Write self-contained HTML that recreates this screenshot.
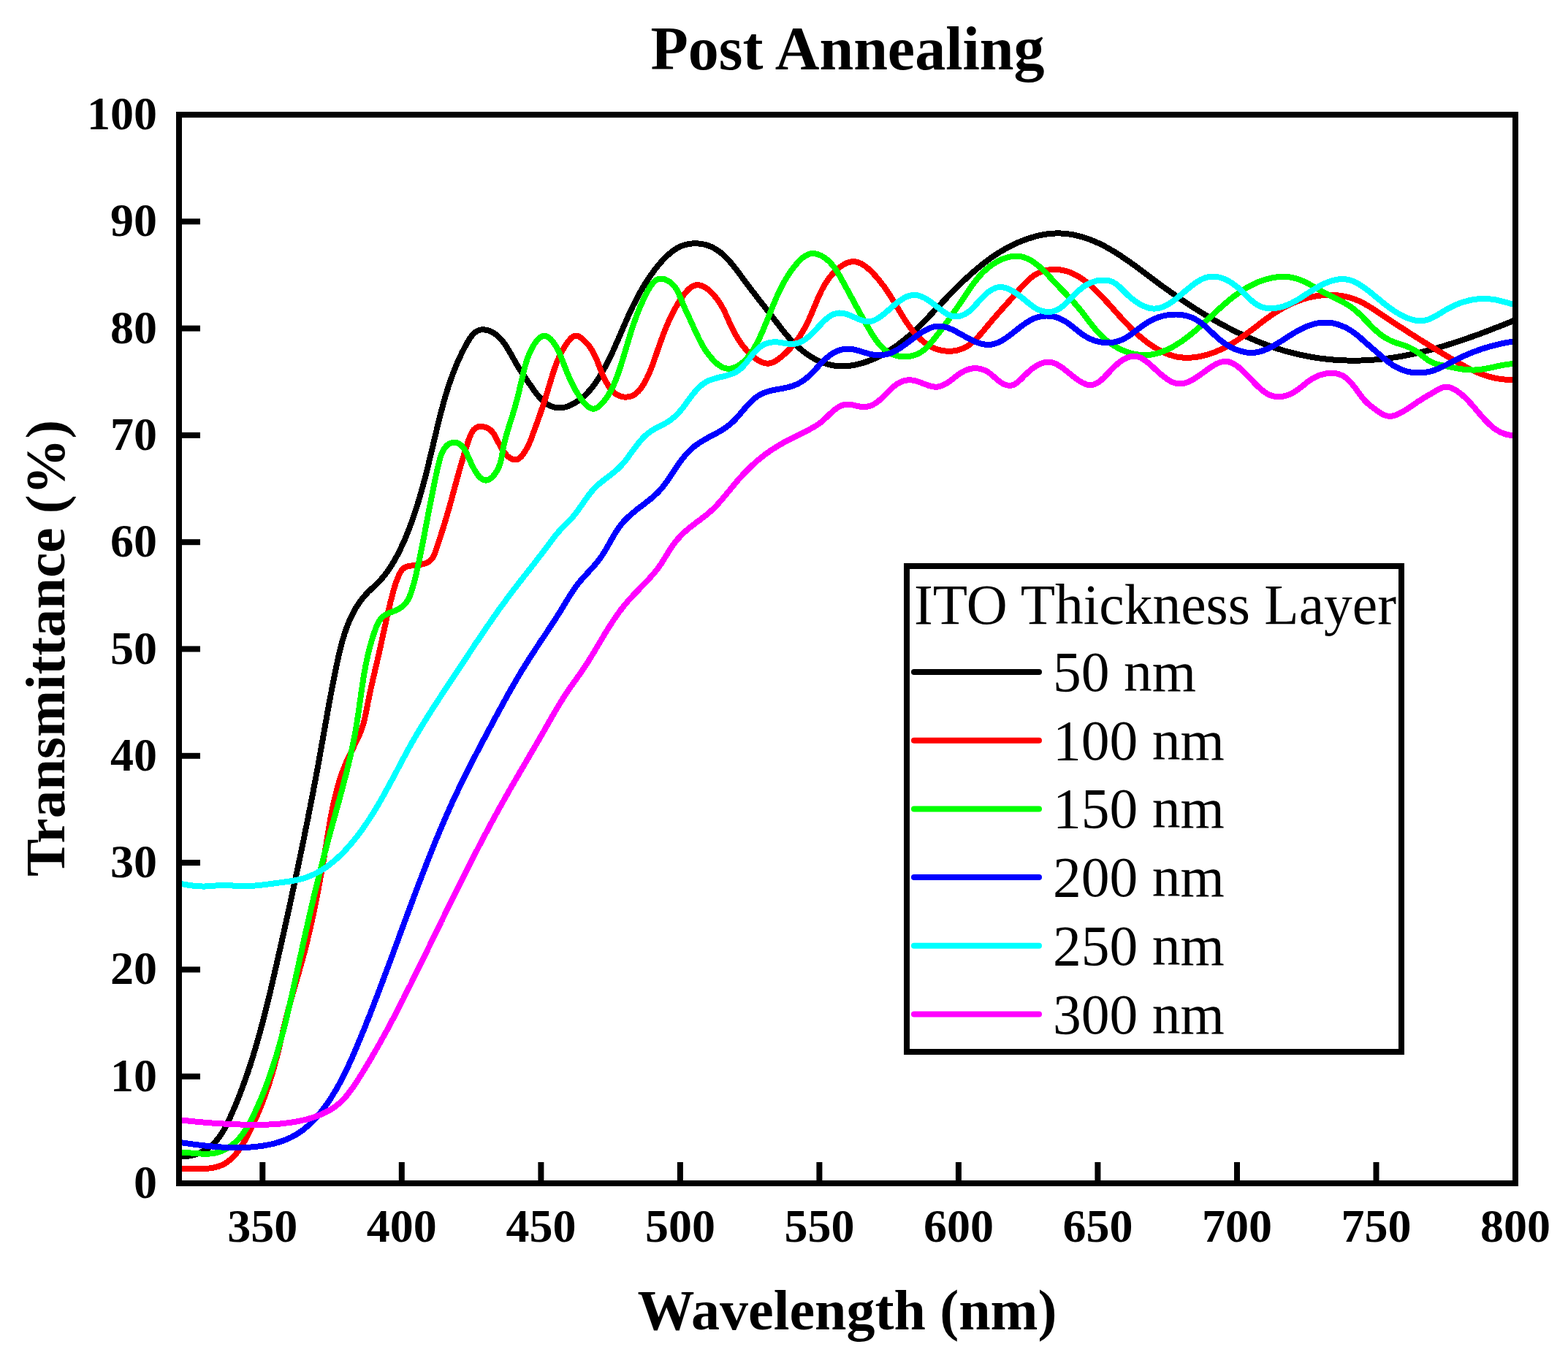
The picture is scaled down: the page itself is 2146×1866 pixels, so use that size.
<!DOCTYPE html>
<html><head><meta charset="utf-8"><title>Post Annealing</title>
<style>
html,body{margin:0;padding:0;background:#fff;}
svg{display:block;}
text{font-family:"Liberation Serif","Times New Roman",serif;fill:#000;}
.tk{font-weight:bold;font-size:64px;}
.ttl{font-weight:bold;font-size:84px;}
.ax{font-weight:bold;font-size:78px;}
.lg{font-weight:normal;font-size:77.5px;}
</style></head><body>
<svg width="2146" height="1866" viewBox="0 0 2146 1866">
<defs><clipPath id="clip"><rect x="245" y="157" width="1829" height="1463"/></clipPath></defs>
<rect x="0" y="0" width="2146" height="1866" fill="#fff"/>
<g clip-path="url(#clip)" fill="none" stroke-width="8" stroke-linejoin="round" stroke-linecap="butt" shape-rendering="crispEdges"><path d="M245.0,1582.4 248.8,1582.9 252.6,1583.0 256.5,1582.8 260.4,1582.3 264.3,1581.4 268.2,1580.3 272.0,1578.9 275.8,1577.2 279.4,1575.3 282.9,1573.2 286.2,1570.8 289.4,1568.3 292.3,1565.7 295.1,1562.8 297.6,1559.9 300.0,1556.8 302.3,1553.6 304.4,1550.2 306.4,1546.8 308.4,1543.4 310.2,1539.8 311.9,1536.3 313.6,1532.6 315.3,1529.0 316.9,1525.4 318.5,1521.7 320.1,1518.0 321.7,1514.4 323.2,1510.7 324.7,1507.0 326.2,1503.3 327.7,1499.6 329.1,1495.8 330.5,1492.1 331.9,1488.4 333.3,1484.6 334.6,1480.9 336.0,1477.1 337.3,1473.4 338.6,1469.6 339.9,1465.8 341.1,1462.0 342.4,1458.3 343.6,1454.5 344.8,1450.7 346.0,1446.8 347.2,1443.0 348.3,1439.2 349.5,1435.4 350.6,1431.6 351.7,1427.7 352.8,1423.9 353.9,1420.0 355.0,1416.2 356.0,1412.3 357.1,1408.5 358.1,1404.6 359.1,1400.8 360.1,1396.9 361.1,1393.0 362.1,1389.2 363.1,1385.3 364.1,1381.4 365.1,1377.5 366.0,1373.6 367.0,1369.7 367.9,1365.8 368.8,1362.0 369.8,1358.1 370.7,1354.2 371.6,1350.3 372.5,1346.4 373.4,1342.5 374.3,1338.6 375.2,1334.7 376.1,1330.8 377.0,1326.8 377.9,1322.9 378.8,1319.0 379.7,1315.1 380.6,1311.2 381.4,1307.3 382.3,1303.4 383.2,1299.5 384.1,1295.6 385.0,1291.7 385.8,1287.8 386.7,1283.9 387.6,1280.0 388.5,1276.1 389.3,1272.2 390.2,1268.3 391.1,1264.4 391.9,1260.5 392.8,1256.6 393.6,1252.7 394.5,1248.8 395.4,1244.9 396.2,1240.9 397.1,1237.0 397.9,1233.1 398.8,1229.2 399.6,1225.3 400.4,1221.4 401.3,1217.5 402.1,1213.6 403.0,1209.7 403.8,1205.8 404.6,1201.9 405.5,1198.0 406.3,1194.1 407.1,1190.2 407.9,1186.3 408.8,1182.4 409.6,1178.4 410.4,1174.5 411.2,1170.6 412.0,1166.7 412.8,1162.8 413.6,1158.9 414.5,1155.0 415.3,1151.1 416.1,1147.2 416.8,1143.3 417.6,1139.3 418.4,1135.4 419.2,1131.5 420.0,1127.6 420.8,1123.7 421.6,1119.8 422.3,1115.9 423.1,1111.9 423.9,1108.0 424.7,1104.1 425.4,1100.2 426.2,1096.3 426.9,1092.4 427.7,1088.4 428.5,1084.5 429.2,1080.6 429.9,1076.7 430.7,1072.8 431.4,1068.8 432.2,1064.9 432.9,1061.0 433.6,1057.1 434.4,1053.2 435.1,1049.2 435.8,1045.3 436.5,1041.4 437.2,1037.5 437.9,1033.5 438.6,1029.6 439.3,1025.7 440.0,1021.7 440.7,1017.8 441.4,1013.9 442.1,1009.9 442.8,1006.0 443.5,1002.1 444.2,998.2 444.9,994.2 445.6,990.3 446.3,986.4 447.0,982.4 447.7,978.5 448.4,974.5 449.1,970.6 449.8,966.7 450.5,962.7 451.3,958.8 452.0,954.9 452.7,950.9 453.5,947.0 454.2,943.1 455.0,939.1 455.7,935.2 456.5,931.2 457.3,927.3 458.1,923.4 458.9,919.4 459.7,915.5 460.5,911.6 461.4,907.6 462.2,903.7 463.1,899.8 464.0,895.8 464.9,891.9 465.9,888.0 466.8,884.1 467.9,880.2 468.9,876.3 470.1,872.5 471.2,868.7 472.5,864.9 473.8,861.1 475.1,857.4 476.6,853.7 478.1,850.1 479.7,846.4 481.4,842.9 483.2,839.3 485.1,835.8 487.0,832.4 489.1,829.0 491.3,825.7 493.6,822.5 496.0,819.3 498.5,816.3 501.2,813.3 503.9,810.4 506.8,807.7 509.7,805.0 512.6,802.3 515.5,799.6 518.3,796.8 521.0,793.9 523.6,790.9 526.1,787.8 528.6,784.7 530.9,781.5 533.1,778.2 535.3,774.8 537.4,771.4 539.4,768.0 541.4,764.5 543.3,761.0 545.2,757.4 547.0,753.9 548.7,750.2 550.4,746.6 552.1,742.9 553.7,739.3 555.2,735.6 556.8,731.9 558.3,728.2 559.7,724.5 561.1,720.7 562.5,717.0 563.9,713.2 565.2,709.5 566.5,705.7 567.8,701.9 569.0,698.1 570.3,694.3 571.5,690.5 572.6,686.7 573.8,682.9 574.9,679.1 576.0,675.2 577.1,671.4 578.2,667.5 579.2,663.7 580.2,659.8 581.3,656.0 582.3,652.1 583.3,648.2 584.2,644.4 585.2,640.5 586.2,636.6 587.1,632.7 588.0,628.8 589.0,624.9 589.9,621.1 590.8,617.2 591.8,613.3 592.7,609.4 593.6,605.5 594.5,601.6 595.5,597.7 596.4,593.8 597.3,589.9 598.2,586.1 599.2,582.2 600.1,578.3 601.1,574.4 602.1,570.5 603.0,566.7 604.0,562.8 605.1,558.9 606.1,555.1 607.1,551.2 608.2,547.4 609.3,543.6 610.5,539.7 611.6,535.9 612.8,532.1 614.0,528.3 615.3,524.5 616.6,520.7 617.9,517.0 619.3,513.2 620.7,509.4 622.2,505.7 623.7,502.0 625.2,498.3 626.8,494.6 628.5,490.9 630.2,487.2 631.9,483.6 633.8,479.9 635.6,476.3 637.6,472.7 639.6,469.1 641.7,465.5 643.9,462.1 646.2,459.0 648.8,456.2 651.6,454.0 654.7,452.4 658.0,451.5 661.6,451.3 665.3,451.7 669.0,452.7 672.5,454.1 675.8,455.9 679.0,458.1 681.9,460.7 684.7,463.5 687.4,466.6 690.0,470.0 692.4,473.4 694.7,477.1 697.0,480.8 699.1,484.5 701.3,488.3 703.3,492.1 705.4,495.7 707.4,499.3 709.4,502.7 711.4,505.9 713.5,509.1 715.5,512.2 717.6,515.3 719.7,518.4 721.9,521.5 724.1,524.7 726.4,528.0 728.7,531.3 731.1,534.8 733.6,538.2 736.2,541.5 739.0,544.6 741.8,547.6 744.8,550.3 748.0,552.7 751.3,554.7 754.8,556.3 758.4,557.5 762.1,558.2 765.9,558.5 769.7,558.2 773.5,557.4 777.3,556.2 781.1,554.7 784.8,552.8 788.3,550.8 791.7,548.5 794.9,546.1 798.0,543.6 801.0,540.9 803.8,538.0 806.5,535.1 809.1,532.1 811.6,528.9 814.0,525.7 816.3,522.4 818.5,519.0 820.7,515.6 822.7,512.1 824.8,508.6 826.7,505.1 828.6,501.6 830.5,498.0 832.3,494.5 834.0,490.9 835.8,487.3 837.5,483.7 839.2,480.1 840.8,476.4 842.4,472.8 844.0,469.2 845.6,465.5 847.2,461.9 848.8,458.2 850.4,454.6 851.9,450.9 853.5,447.3 855.1,443.6 856.7,440.0 858.3,436.4 859.9,432.7 861.5,429.1 863.2,425.5 864.9,421.9 866.6,418.3 868.4,414.8 870.2,411.2 872.0,407.7 873.9,404.2 875.8,400.7 877.7,397.2 879.7,393.8 881.8,390.4 883.9,387.0 886.1,383.6 888.3,380.3 890.5,377.0 892.9,373.7 895.3,370.4 897.8,367.2 900.3,364.1 902.9,360.9 905.6,357.8 908.4,354.8 911.3,351.9 914.2,349.1 917.3,346.4 920.4,343.9 923.7,341.7 927.0,339.6 930.5,337.8 934.1,336.3 937.9,335.1 941.7,334.2 945.6,333.6 949.6,333.3 953.6,333.3 957.6,333.6 961.5,334.2 965.4,335.0 969.1,336.2 972.8,337.6 976.3,339.3 979.6,341.2 982.9,343.3 986.0,345.6 989.0,348.2 992.0,350.8 994.8,353.7 997.6,356.6 1000.2,359.7 1002.9,362.9 1005.4,366.1 1008.0,369.4 1010.5,372.7 1012.9,376.0 1015.4,379.4 1017.8,382.7 1020.2,386.0 1022.7,389.2 1025.1,392.5 1027.5,395.6 1029.9,398.8 1032.4,401.9 1034.8,405.1 1037.2,408.2 1039.6,411.3 1042.0,414.3 1044.4,417.4 1046.9,420.5 1049.3,423.6 1051.7,426.7 1054.1,429.8 1056.5,432.9 1058.9,436.1 1061.2,439.2 1063.7,442.4 1066.1,445.5 1068.5,448.7 1071.0,451.8 1073.5,455.0 1076.1,458.1 1078.7,461.1 1081.3,464.1 1084.1,467.1 1086.9,470.0 1089.7,472.8 1092.7,475.5 1095.8,478.2 1098.9,480.8 1102.2,483.2 1105.5,485.6 1108.9,487.8 1112.4,489.9 1116.0,491.9 1119.6,493.7 1123.3,495.3 1127.0,496.8 1130.8,498.0 1134.6,499.1 1138.5,499.9 1142.3,500.6 1146.2,501.0 1150.2,501.2 1154.1,501.3 1158.0,501.1 1161.9,500.8 1165.9,500.3 1169.8,499.6 1173.7,498.8 1177.6,497.8 1181.4,496.7 1185.2,495.5 1189.0,494.1 1192.8,492.7 1196.5,491.1 1200.2,489.4 1203.8,487.7 1207.3,485.8 1210.8,483.9 1214.2,481.8 1217.6,479.8 1220.9,477.6 1224.2,475.4 1227.4,473.1 1230.6,470.7 1233.7,468.3 1236.8,465.9 1239.9,463.3 1242.9,460.8 1245.9,458.2 1248.8,455.5 1251.7,452.8 1254.6,450.1 1257.5,447.3 1260.4,444.5 1263.2,441.7 1266.0,438.8 1268.8,436.0 1271.6,433.1 1274.4,430.2 1277.2,427.2 1279.9,424.3 1282.7,421.4 1285.5,418.5 1288.2,415.5 1291.0,412.6 1293.8,409.7 1296.6,406.7 1299.4,403.8 1302.2,400.9 1305.0,398.1 1307.9,395.2 1310.7,392.4 1313.6,389.5 1316.5,386.7 1319.4,383.9 1322.3,381.2 1325.2,378.5 1328.2,375.8 1331.2,373.1 1334.2,370.5 1337.2,367.9 1340.3,365.4 1343.4,362.9 1346.5,360.4 1349.6,358.0 1352.8,355.6 1356.0,353.3 1359.3,351.1 1362.5,348.9 1365.8,346.7 1369.2,344.6 1372.6,342.6 1376.0,340.6 1379.5,338.7 1383.0,336.9 1386.5,335.1 1390.1,333.5 1393.7,331.8 1397.4,330.3 1401.1,328.8 1404.9,327.5 1408.7,326.2 1412.6,325.0 1416.5,323.8 1420.4,322.8 1424.4,321.9 1428.4,321.2 1432.4,320.5 1436.4,320.0 1440.4,319.7 1444.4,319.5 1448.4,319.4 1452.4,319.5 1456.4,319.8 1460.4,320.1 1464.3,320.7 1468.2,321.3 1472.1,322.1 1476.0,323.0 1479.8,324.1 1483.6,325.2 1487.4,326.5 1491.1,327.8 1494.8,329.2 1498.5,330.7 1502.1,332.3 1505.7,334.0 1509.2,335.8 1512.8,337.6 1516.2,339.5 1519.7,341.5 1523.1,343.5 1526.5,345.5 1529.9,347.7 1533.3,349.8 1536.6,352.1 1539.9,354.3 1543.2,356.6 1546.5,358.9 1549.8,361.3 1553.0,363.6 1556.3,366.0 1559.5,368.4 1562.8,370.9 1566.0,373.3 1569.2,375.7 1572.4,378.1 1575.6,380.5 1578.9,383.0 1582.1,385.4 1585.3,387.7 1588.5,390.1 1591.8,392.5 1595.0,394.8 1598.3,397.1 1601.5,399.4 1604.8,401.7 1608.0,404.0 1611.3,406.3 1614.6,408.5 1617.8,410.8 1621.1,413.0 1624.4,415.2 1627.8,417.4 1631.1,419.6 1634.4,421.7 1637.8,423.8 1641.1,425.9 1644.5,428.0 1647.9,430.1 1651.3,432.1 1654.7,434.2 1658.1,436.2 1661.6,438.2 1665.1,440.1 1668.5,442.1 1672.0,444.0 1675.6,445.9 1679.1,447.8 1682.7,449.6 1686.2,451.4 1689.8,453.2 1693.4,455.0 1697.0,456.7 1700.7,458.4 1704.3,460.1 1708.0,461.7 1711.6,463.4 1715.3,464.9 1719.0,466.5 1722.7,468.0 1726.5,469.5 1730.2,470.9 1734.0,472.3 1737.7,473.7 1741.5,475.0 1745.3,476.3 1749.1,477.5 1752.9,478.7 1756.8,479.9 1760.6,481.0 1764.5,482.0 1768.3,483.0 1772.2,484.0 1776.1,484.9 1780.0,485.8 1783.9,486.7 1787.8,487.4 1791.7,488.2 1795.6,488.9 1799.5,489.5 1803.5,490.1 1807.4,490.7 1811.3,491.2 1815.3,491.6 1819.3,492.0 1823.2,492.4 1827.2,492.7 1831.1,493.0 1835.1,493.2 1839.1,493.4 1843.1,493.5 1847.0,493.6 1851.0,493.7 1855.0,493.7 1858.9,493.6 1862.9,493.5 1866.9,493.4 1870.9,493.2 1874.8,493.0 1878.8,492.7 1882.7,492.4 1886.7,492.0 1890.6,491.6 1894.6,491.2 1898.5,490.7 1902.5,490.2 1906.4,489.6 1910.4,489.0 1914.3,488.4 1918.2,487.7 1922.1,487.0 1926.0,486.2 1929.9,485.4 1933.8,484.6 1937.7,483.7 1941.6,482.9 1945.5,481.9 1949.4,481.0 1953.3,480.0 1957.2,479.0 1961.0,478.0 1964.9,476.9 1968.8,475.8 1972.6,474.7 1976.5,473.6 1980.3,472.4 1984.1,471.2 1988.0,470.0 1991.8,468.8 1995.6,467.5 1999.4,466.3 2003.2,465.0 2007.0,463.7 2010.8,462.3 2014.6,461.0 2018.3,459.6 2022.1,458.3 2025.9,456.9 2029.6,455.5 2033.3,454.1 2037.1,452.7 2040.8,451.2 2044.5,449.8 2048.2,448.3 2051.9,446.9 2055.6,445.4 2059.3,443.9 2063.0,442.5 2066.7,441.0 2070.3,439.5 2074.0,438.0" stroke="#000000"/><path d="M245.0,1599.4 248.6,1599.5 252.3,1599.6 256.2,1599.8 260.2,1599.9 264.3,1600.1 268.5,1600.2 272.7,1600.2 276.9,1600.1 281.0,1599.9 285.2,1599.6 289.3,1599.1 293.3,1598.4 297.1,1597.4 300.9,1596.2 304.4,1594.7 307.8,1593.0 311.0,1590.9 314.0,1588.6 316.9,1586.1 319.7,1583.4 322.3,1580.5 324.8,1577.4 327.2,1574.2 329.4,1570.9 331.6,1567.4 333.7,1563.9 335.8,1560.3 337.7,1556.6 339.6,1553.0 341.5,1549.3 343.3,1545.6 345.1,1541.9 346.8,1538.2 348.5,1534.6 350.2,1530.9 351.8,1527.2 353.4,1523.5 354.9,1519.8 356.5,1516.1 357.9,1512.4 359.4,1508.7 360.8,1505.0 362.2,1501.3 363.5,1497.6 364.8,1493.9 366.1,1490.1 367.4,1486.4 368.6,1482.7 369.8,1478.9 370.9,1475.1 372.1,1471.4 373.2,1467.6 374.3,1463.8 375.4,1460.0 376.4,1456.1 377.4,1452.3 378.4,1448.5 379.4,1444.6 380.4,1440.7 381.3,1436.9 382.3,1433.0 383.2,1429.1 384.1,1425.2 385.1,1421.3 386.0,1417.4 386.9,1413.5 387.8,1409.6 388.7,1405.6 389.7,1401.7 390.6,1397.8 391.6,1393.9 392.6,1390.0 393.6,1386.1 394.6,1382.3 395.6,1378.4 396.7,1374.5 397.7,1370.7 398.8,1366.8 399.9,1363.0 401.0,1359.1 402.1,1355.3 403.2,1351.4 404.3,1347.6 405.4,1343.7 406.5,1339.9 407.7,1336.1 408.8,1332.2 409.8,1328.4 410.9,1324.5 412.0,1320.7 413.1,1316.9 414.1,1313.0 415.1,1309.2 416.2,1305.3 417.2,1301.4 418.2,1297.6 419.1,1293.7 420.1,1289.8 421.0,1286.0 422.0,1282.1 422.9,1278.2 423.8,1274.3 424.7,1270.4 425.6,1266.6 426.4,1262.7 427.3,1258.8 428.1,1254.9 429.0,1251.0 429.8,1247.1 430.6,1243.2 431.4,1239.3 432.2,1235.3 433.0,1231.4 433.7,1227.5 434.5,1223.6 435.3,1219.7 436.0,1215.8 436.7,1211.8 437.5,1207.9 438.2,1204.0 438.9,1200.0 439.6,1196.1 440.3,1192.2 441.0,1188.2 441.7,1184.3 442.4,1180.3 443.0,1176.4 443.7,1172.4 444.4,1168.5 445.0,1164.5 445.7,1160.6 446.4,1156.6 447.0,1152.7 447.6,1148.7 448.3,1144.8 448.9,1140.8 449.6,1136.8 450.3,1132.9 450.9,1128.9 451.6,1125.0 452.3,1121.0 453.0,1117.1 453.8,1113.2 454.5,1109.3 455.3,1105.3 456.1,1101.4 457.0,1097.5 457.9,1093.6 458.8,1089.8 459.8,1085.9 460.8,1082.0 461.8,1078.2 462.9,1074.4 464.0,1070.6 465.2,1066.8 466.5,1063.0 467.8,1059.2 469.1,1055.5 470.5,1051.8 472.0,1048.1 473.6,1044.4 475.2,1040.7 476.9,1037.1 478.6,1033.5 480.4,1029.8 482.2,1026.2 484.0,1022.6 485.8,1019.0 487.5,1015.4 489.2,1011.8 490.9,1008.1 492.5,1004.5 494.0,1000.8 495.3,997.0 496.6,993.3 497.7,989.5 498.7,985.6 499.6,981.7 500.5,977.8 501.3,973.9 502.0,970.0 502.8,966.1 503.5,962.1 504.3,958.2 505.1,954.3 505.9,950.4 506.8,946.5 507.6,942.5 508.5,938.6 509.4,934.7 510.3,930.8 511.2,926.9 512.1,923.0 513.0,919.1 513.9,915.2 514.9,911.3 515.8,907.4 516.6,903.5 517.5,899.6 518.4,895.7 519.3,891.8 520.1,887.9 521.0,884.0 521.8,880.1 522.7,876.2 523.5,872.3 524.3,868.4 525.2,864.5 526.1,860.6 526.9,856.7 527.8,852.8 528.6,848.9 529.5,845.1 530.4,841.2 531.3,837.3 532.2,833.4 533.2,829.5 534.1,825.6 535.1,821.7 536.1,817.8 537.1,814.0 538.1,810.1 539.2,806.2 540.4,802.4 541.6,798.5 543.0,794.7 544.5,790.9 546.1,787.2 548.0,783.5 550.1,780.2 552.8,777.7 556.0,776.0 559.7,775.0 563.6,774.4 567.8,774.0 571.9,773.6 576.0,772.9 579.9,772.0 583.5,770.7 586.8,768.9 589.7,766.6 592.0,763.8 593.9,760.3 595.5,756.6 596.9,752.6 598.2,748.7 599.5,744.7 600.8,740.8 602.1,736.9 603.3,733.0 604.5,729.1 605.8,725.2 607.0,721.4 608.1,717.5 609.3,713.7 610.4,709.9 611.6,706.1 612.7,702.2 613.8,698.4 614.9,694.6 615.9,690.8 617.0,687.0 618.0,683.2 619.1,679.4 620.1,675.6 621.1,671.8 622.2,668.0 623.2,664.2 624.2,660.4 625.3,656.6 626.3,652.8 627.4,649.0 628.4,645.1 629.5,641.3 630.6,637.4 631.7,633.6 632.9,629.7 634.0,625.8 635.2,621.9 636.4,618.0 637.6,614.0 638.9,610.1 640.2,606.1 641.5,602.1 642.9,598.2 644.5,594.5 646.3,591.1 648.4,588.2 650.9,586.0 653.9,584.4 657.5,583.8 661.5,584.1 665.7,585.3 669.4,587.3 672.6,589.9 675.1,593.0 677.3,596.5 679.2,600.1 681.1,603.9 683.1,607.7 685.0,611.3 687.1,614.9 689.4,618.3 691.9,621.5 694.7,624.4 697.8,626.9 701.2,628.7 704.6,629.5 707.9,629.0 710.9,627.3 713.8,624.7 716.4,621.4 718.7,617.8 720.8,614.2 722.7,610.6 724.4,607.0 725.9,603.4 727.3,599.9 728.6,596.3 729.9,592.7 731.3,589.1 732.6,585.5 733.9,581.8 735.2,578.1 736.6,574.4 737.9,570.6 739.2,566.9 740.5,563.1 741.8,559.3 743.1,555.5 744.3,551.7 745.6,547.9 746.8,544.0 748.0,540.2 749.2,536.3 750.3,532.5 751.5,528.7 752.6,524.8 753.8,521.0 754.9,517.1 756.1,513.3 757.3,509.5 758.6,505.7 759.9,502.0 761.3,498.2 762.8,494.5 764.4,490.8 766.0,487.2 767.8,483.6 769.7,480.0 771.8,476.4 773.9,472.9 776.2,469.5 778.7,466.1 781.4,463.0 784.3,460.7 787.4,459.6 790.8,460.1 794.2,461.8 797.6,464.5 800.8,467.5 803.7,470.6 806.3,473.8 808.6,477.0 810.7,480.3 812.5,483.7 814.2,487.2 815.8,490.7 817.4,494.3 818.8,498.0 820.3,501.7 821.8,505.6 823.4,509.5 825.0,513.5 826.8,517.4 828.7,521.3 830.8,525.1 832.9,528.6 835.3,532.0 837.9,535.0 840.6,537.6 843.6,539.9 846.8,541.6 850.2,542.8 853.8,543.5 857.4,543.6 861.0,543.2 864.5,542.2 867.9,540.5 871.0,538.2 874.0,535.4 876.7,532.1 879.2,528.6 881.5,524.9 883.6,521.2 885.5,517.5 887.3,513.7 888.9,510.0 890.5,506.3 891.9,502.6 893.3,498.9 894.6,495.2 895.9,491.5 897.2,487.8 898.5,484.1 899.7,480.4 901.0,476.8 902.3,473.1 903.6,469.4 904.9,465.8 906.2,462.1 907.6,458.5 909.0,454.8 910.4,451.2 911.9,447.5 913.5,443.9 915.1,440.2 916.8,436.6 918.5,432.9 920.3,429.3 922.2,425.6 924.2,422.0 926.3,418.3 928.5,414.6 930.8,410.9 933.2,407.3 935.8,403.7 938.4,400.4 941.1,397.4 944.0,394.7 946.9,392.6 949.9,391.1 953.1,390.2 956.3,390.2 959.6,390.9 963.0,392.3 966.3,394.3 969.6,396.8 972.8,399.7 975.9,402.9 978.9,406.3 981.6,409.8 984.1,413.4 986.4,416.9 988.4,420.4 990.3,423.9 992.0,427.4 993.7,430.9 995.2,434.4 996.8,437.9 998.4,441.4 1000.0,444.9 1001.7,448.4 1003.4,451.9 1005.2,455.4 1007.2,458.9 1009.2,462.4 1011.3,465.8 1013.5,469.1 1015.9,472.4 1018.4,475.6 1021.0,478.7 1023.8,481.8 1026.7,484.7 1029.9,487.5 1033.2,490.1 1036.6,492.6 1040.2,494.7 1043.9,496.4 1047.6,497.4 1051.3,497.7 1054.9,497.1 1058.5,495.8 1062.0,493.9 1065.4,491.6 1068.7,489.1 1071.8,486.4 1074.9,483.6 1077.8,480.8 1080.6,477.9 1083.4,474.9 1086.0,471.8 1088.5,468.7 1090.9,465.5 1093.2,462.3 1095.4,459.0 1097.5,455.6 1099.6,452.2 1101.5,448.7 1103.4,445.2 1105.2,441.6 1106.9,437.9 1108.5,434.3 1110.2,430.6 1111.7,426.8 1113.3,423.1 1114.8,419.4 1116.4,415.6 1117.9,411.9 1119.5,408.2 1121.2,404.5 1122.9,400.9 1124.6,397.3 1126.5,393.8 1128.4,390.3 1130.5,386.9 1132.7,383.6 1135.0,380.4 1137.5,377.3 1140.1,374.3 1142.9,371.4 1145.9,368.6 1149.1,366.0 1152.5,363.6 1156.0,361.5 1159.6,359.9 1163.2,358.7 1166.8,358.2 1170.5,358.3 1174.0,359.1 1177.6,360.5 1181.0,362.3 1184.4,364.6 1187.7,367.2 1190.9,370.1 1194.0,373.2 1197.0,376.4 1199.8,379.6 1202.5,382.8 1205.1,386.0 1207.5,389.2 1209.9,392.3 1212.1,395.5 1214.3,398.7 1216.4,401.9 1218.5,405.1 1220.5,408.3 1222.5,411.5 1224.5,414.8 1226.5,418.2 1228.5,421.6 1230.6,425.0 1232.7,428.5 1234.8,432.0 1237.0,435.5 1239.3,439.0 1241.6,442.5 1244.0,445.9 1246.4,449.3 1248.9,452.5 1251.5,455.7 1254.2,458.8 1257.0,461.7 1259.9,464.5 1262.9,467.1 1266.0,469.6 1269.2,471.8 1272.6,473.8 1276.1,475.6 1279.7,477.2 1283.4,478.4 1287.3,479.5 1291.2,480.2 1295.1,480.6 1299.1,480.8 1303.0,480.6 1307.0,480.2 1310.8,479.4 1314.5,478.3 1318.2,476.9 1321.6,475.2 1325.0,473.2 1328.2,470.9 1331.3,468.3 1334.3,465.6 1337.2,462.7 1340.0,459.7 1342.8,456.6 1345.5,453.4 1348.2,450.2 1350.8,447.0 1353.5,443.8 1356.1,440.7 1358.7,437.6 1361.3,434.6 1363.9,431.6 1366.5,428.6 1369.1,425.7 1371.7,422.8 1374.3,419.9 1376.9,417.0 1379.5,414.1 1382.1,411.2 1384.7,408.3 1387.3,405.3 1390.0,402.3 1392.6,399.3 1395.3,396.2 1398.0,393.1 1400.8,390.1 1403.6,387.1 1406.5,384.2 1409.5,381.5 1412.7,379.0 1415.9,376.7 1419.3,374.6 1422.9,372.9 1426.6,371.5 1430.4,370.4 1434.4,369.6 1438.4,369.1 1442.4,368.9 1446.4,368.9 1450.4,369.3 1454.3,369.9 1458.1,370.8 1461.8,371.9 1465.4,373.3 1469.0,374.8 1472.5,376.6 1475.9,378.5 1479.3,380.6 1482.6,382.9 1485.8,385.3 1489.0,387.8 1492.1,390.4 1495.2,393.1 1498.2,395.9 1501.1,398.8 1504.0,401.7 1506.9,404.7 1509.7,407.7 1512.4,410.7 1515.2,413.6 1517.9,416.6 1520.6,419.6 1523.2,422.6 1525.9,425.6 1528.5,428.5 1531.1,431.5 1533.8,434.4 1536.4,437.3 1539.1,440.2 1541.8,443.0 1544.5,445.8 1547.2,448.6 1550.0,451.4 1552.9,454.1 1555.8,456.8 1558.7,459.4 1561.7,462.0 1564.8,464.5 1567.9,467.0 1571.1,469.5 1574.4,471.8 1577.8,474.1 1581.3,476.3 1584.8,478.4 1588.3,480.4 1591.9,482.2 1595.6,483.8 1599.3,485.3 1603.1,486.5 1606.9,487.6 1610.7,488.5 1614.5,489.1 1618.4,489.5 1622.3,489.8 1626.2,489.8 1630.1,489.6 1634.1,489.3 1638.0,488.8 1641.9,488.1 1645.8,487.3 1649.7,486.3 1653.6,485.1 1657.4,483.9 1661.3,482.5 1665.1,481.0 1668.8,479.4 1672.6,477.6 1676.2,475.8 1679.9,473.9 1683.4,471.9 1687.0,469.9 1690.4,467.7 1693.8,465.5 1697.1,463.3 1700.4,461.0 1703.7,458.7 1706.9,456.3 1710.1,454.0 1713.2,451.6 1716.4,449.2 1719.5,446.8 1722.7,444.4 1725.8,442.0 1729.0,439.6 1732.1,437.2 1735.3,434.9 1738.5,432.6 1741.8,430.4 1745.1,428.2 1748.4,426.1 1751.8,424.1 1755.2,422.1 1758.7,420.2 1762.2,418.4 1765.8,416.6 1769.4,415.0 1773.1,413.4 1776.8,411.9 1780.6,410.6 1784.4,409.3 1788.2,408.2 1792.1,407.2 1796.1,406.3 1800.0,405.6 1804.0,404.9 1808.1,404.5 1812.1,404.1 1816.2,403.9 1820.2,403.8 1824.3,403.9 1828.3,404.2 1832.4,404.6 1836.3,405.1 1840.3,405.8 1844.2,406.7 1848.0,407.7 1851.8,408.9 1855.5,410.3 1859.2,411.8 1862.7,413.5 1866.3,415.3 1869.7,417.2 1873.2,419.2 1876.6,421.3 1880.0,423.4 1883.3,425.6 1886.6,427.9 1890.0,430.1 1893.3,432.3 1896.6,434.6 1900.0,436.8 1903.3,439.0 1906.6,441.2 1910.0,443.4 1913.3,445.6 1916.7,447.8 1920.0,449.9 1923.4,452.1 1926.7,454.3 1930.1,456.4 1933.4,458.6 1936.8,460.7 1940.2,462.8 1943.5,465.0 1946.9,467.1 1950.3,469.2 1953.7,471.3 1957.1,473.4 1960.5,475.5 1963.9,477.6 1967.3,479.7 1970.7,481.8 1974.1,483.8 1977.5,485.9 1981.0,487.9 1984.4,490.0 1987.9,492.0 1991.3,494.1 1994.8,496.1 1998.3,498.1 2001.7,500.0 2005.3,501.9 2008.8,503.7 2012.3,505.5 2015.9,507.2 2019.5,508.9 2023.2,510.4 2026.8,511.9 2030.5,513.3 2034.2,514.5 2038.0,515.7 2041.8,516.7 2045.7,517.6 2049.6,518.3 2053.5,518.9 2057.5,519.4 2061.5,519.7 2065.6,519.8 2069.8,519.7 2074.0,519.5" stroke="#ff0000"/><path d="M245.0,1578.4 249.0,1578.2 253.0,1578.2 257.1,1578.3 261.1,1578.5 265.0,1578.8 269.0,1579.1 273.0,1579.4 276.9,1579.6 280.9,1579.7 284.8,1579.7 288.7,1579.4 292.6,1578.9 296.4,1578.1 300.3,1576.9 304.1,1575.5 307.8,1573.7 311.4,1571.7 314.9,1569.5 318.1,1567.1 321.2,1564.6 324.1,1561.8 326.8,1559.0 329.4,1556.0 331.8,1552.9 334.1,1549.7 336.3,1546.4 338.4,1543.0 340.4,1539.6 342.3,1536.1 344.1,1532.5 345.9,1528.9 347.7,1525.3 349.4,1521.7 351.1,1518.1 352.7,1514.4 354.3,1510.7 355.9,1507.1 357.5,1503.4 359.0,1499.7 360.5,1496.0 362.0,1492.3 363.4,1488.6 364.8,1484.8 366.2,1481.1 367.6,1477.4 368.9,1473.6 370.2,1469.8 371.5,1466.1 372.8,1462.3 374.0,1458.5 375.2,1454.7 376.4,1450.9 377.6,1447.1 378.8,1443.2 379.9,1439.4 381.0,1435.6 382.1,1431.7 383.2,1427.9 384.3,1424.0 385.3,1420.2 386.4,1416.3 387.4,1412.5 388.4,1408.6 389.4,1404.7 390.4,1400.8 391.3,1396.9 392.3,1393.1 393.2,1389.2 394.2,1385.3 395.1,1381.4 396.0,1377.5 396.9,1373.6 397.8,1369.7 398.7,1365.7 399.6,1361.8 400.5,1357.9 401.3,1354.0 402.2,1350.1 403.1,1346.2 403.9,1342.3 404.8,1338.4 405.6,1334.4 406.5,1330.5 407.3,1326.6 408.2,1322.7 409.0,1318.8 409.9,1314.9 410.7,1311.0 411.6,1307.1 412.5,1303.2 413.3,1299.2 414.2,1295.3 415.0,1291.4 415.9,1287.5 416.8,1283.6 417.6,1279.7 418.5,1275.8 419.4,1271.9 420.3,1268.0 421.1,1264.2 422.0,1260.3 422.9,1256.4 423.8,1252.5 424.7,1248.6 425.6,1244.7 426.5,1240.8 427.4,1236.9 428.3,1233.0 429.2,1229.2 430.2,1225.3 431.1,1221.4 432.0,1217.5 433.0,1213.6 433.9,1209.8 434.8,1205.9 435.8,1202.0 436.8,1198.1 437.7,1194.3 438.7,1190.4 439.7,1186.5 440.6,1182.6 441.6,1178.8 442.6,1174.9 443.6,1171.0 444.6,1167.2 445.7,1163.3 446.7,1159.5 447.7,1155.6 448.7,1151.7 449.8,1147.9 450.8,1144.0 451.9,1140.2 452.9,1136.3 454.0,1132.4 455.1,1128.6 456.1,1124.7 457.2,1120.9 458.3,1117.0 459.3,1113.1 460.4,1109.3 461.5,1105.4 462.5,1101.6 463.6,1097.7 464.6,1093.8 465.7,1090.0 466.7,1086.1 467.8,1082.2 468.8,1078.4 469.8,1074.5 470.8,1070.6 471.8,1066.7 472.8,1062.9 473.8,1059.0 474.8,1055.1 475.7,1051.2 476.7,1047.3 477.6,1043.4 478.5,1039.5 479.4,1035.7 480.3,1031.7 481.1,1027.8 482.0,1023.9 482.8,1020.0 483.6,1016.1 484.4,1012.2 485.1,1008.3 485.9,1004.3 486.6,1000.4 487.3,996.5 487.9,992.5 488.6,988.6 489.2,984.6 489.8,980.7 490.4,976.7 491.0,972.7 491.5,968.8 492.1,964.8 492.6,960.9 493.2,956.9 493.8,952.9 494.3,949.0 494.9,945.0 495.5,941.0 496.1,937.1 496.7,933.1 497.3,929.2 497.9,925.2 498.6,921.3 499.3,917.4 500.0,913.4 500.8,909.5 501.6,905.6 502.4,901.7 503.3,897.8 504.2,893.9 505.1,890.0 506.1,886.1 507.2,882.2 508.3,878.3 509.4,874.5 510.6,870.7 511.9,866.8 513.3,863.0 514.7,859.2 516.2,855.5 518.0,852.0 520.0,848.7 522.4,845.7 525.2,843.2 528.5,841.1 532.1,839.4 536.0,837.9 539.9,836.4 543.6,834.8 547.1,832.9 550.3,830.7 553.1,828.2 555.7,825.4 557.8,822.2 559.6,818.8 561.2,815.1 562.6,811.3 563.8,807.4 565.0,803.5 566.1,799.6 567.2,795.6 568.2,791.6 569.2,787.6 570.1,783.6 571.0,779.6 571.9,775.7 572.7,771.7 573.6,767.8 574.4,763.9 575.2,760.0 576.0,756.1 576.8,752.2 577.5,748.3 578.3,744.5 579.1,740.6 579.8,736.8 580.6,732.9 581.3,729.1 582.0,725.2 582.8,721.4 583.5,717.6 584.2,713.7 585.0,709.9 585.7,706.1 586.4,702.2 587.2,698.3 587.9,694.5 588.7,690.6 589.4,686.7 590.2,682.8 591.0,678.8 591.8,674.9 592.6,670.9 593.4,666.9 594.2,662.9 595.1,658.9 595.9,654.8 596.8,650.7 597.7,646.6 598.6,642.5 599.6,638.3 600.5,634.1 601.6,630.0 602.7,625.9 604.1,622.1 605.6,618.5 607.3,615.2 609.4,612.3 611.7,609.8 614.5,607.8 617.5,606.5 620.9,605.8 624.2,605.9 627.4,607.0 630.4,609.0 633.1,611.7 635.5,615.0 637.6,618.6 639.5,622.4 641.3,626.4 643.2,630.5 645.1,634.8 647.3,639.2 649.5,643.4 651.9,647.3 654.4,650.8 657.0,653.7 659.8,656.0 662.6,657.3 665.4,657.6 668.4,656.8 671.3,655.1 674.1,652.7 676.7,649.7 679.1,646.2 681.2,642.5 683.0,638.6 684.4,634.6 685.5,630.7 686.4,626.7 687.1,622.7 687.8,618.8 688.5,614.8 689.2,610.9 690.1,607.0 691.0,603.1 692.0,599.3 693.1,595.4 694.2,591.6 695.3,587.8 696.5,584.0 697.7,580.2 698.9,576.4 700.1,572.6 701.4,568.8 702.5,564.9 703.7,561.1 704.8,557.3 705.9,553.4 706.9,549.5 707.9,545.7 708.9,541.8 709.8,537.9 710.8,534.0 711.7,530.1 712.6,526.2 713.5,522.3 714.4,518.5 715.4,514.6 716.3,510.7 717.2,506.9 718.2,503.1 719.2,499.3 720.4,495.4 721.6,491.5 723.1,487.5 724.7,483.5 726.6,479.4 728.8,475.2 731.2,471.2 733.7,467.6 736.4,464.4 739.2,461.9 742.1,460.3 745.1,459.7 748.0,460.3 751.0,461.9 753.8,464.4 756.4,467.5 758.9,470.9 761.1,474.5 763.1,478.3 765.0,482.1 766.7,486.1 768.3,490.0 769.8,493.8 771.3,497.6 772.7,501.3 774.2,505.0 775.6,508.6 777.1,512.2 778.6,515.8 780.1,519.3 781.8,522.8 783.5,526.4 785.4,529.9 787.3,533.5 789.5,537.1 791.8,540.8 794.2,544.5 796.9,548.2 799.7,551.7 802.6,554.9 805.6,557.4 808.7,559.1 811.8,559.8 814.9,559.3 817.9,557.8 820.8,555.5 823.6,552.7 826.3,549.6 828.8,546.4 831.1,543.0 833.3,539.6 835.3,536.1 837.2,532.5 839.0,528.8 840.7,525.1 842.3,521.3 843.8,517.5 845.2,513.7 846.6,509.8 847.9,505.9 849.2,502.1 850.4,498.2 851.6,494.3 852.8,490.5 853.9,486.7 855.0,482.9 856.2,479.1 857.3,475.3 858.4,471.5 859.6,467.7 860.7,463.9 861.9,460.2 863.0,456.4 864.2,452.7 865.4,448.9 866.7,445.2 867.9,441.5 869.3,437.7 870.6,434.0 872.0,430.3 873.5,426.5 875.0,422.8 876.6,419.1 878.2,415.3 879.9,411.6 881.7,407.9 883.5,404.1 885.5,400.4 887.5,396.6 889.6,393.0 891.9,389.6 894.4,386.6 897.0,384.2 900.0,382.5 903.2,381.6 906.7,381.6 910.4,382.6 914.1,384.4 917.7,386.7 920.9,389.6 923.6,392.8 926.0,396.3 928.0,400.0 929.7,403.8 931.3,407.7 932.9,411.6 934.4,415.4 936.0,419.1 937.6,422.7 939.3,426.3 940.9,429.9 942.6,433.4 944.2,436.9 945.9,440.5 947.5,444.1 949.1,447.7 950.7,451.3 952.4,454.9 954.1,458.5 955.8,462.1 957.6,465.7 959.5,469.3 961.4,472.8 963.5,476.3 965.7,479.7 968.0,483.0 970.5,486.3 973.1,489.5 975.9,492.7 978.9,495.7 982.0,498.4 985.3,500.8 988.7,502.8 992.2,504.1 995.8,504.8 999.5,504.7 1003.2,503.9 1006.9,502.4 1010.5,500.5 1014.0,498.1 1017.3,495.5 1020.4,492.5 1023.3,489.4 1025.9,486.2 1028.3,482.9 1030.5,479.5 1032.5,476.1 1034.5,472.5 1036.3,469.0 1038.1,465.4 1039.9,461.8 1041.5,458.2 1043.2,454.5 1044.8,450.8 1046.3,447.1 1047.9,443.4 1049.4,439.7 1050.9,436.0 1052.3,432.3 1053.8,428.6 1055.3,424.9 1056.8,421.2 1058.3,417.5 1059.9,413.8 1061.4,410.1 1063.0,406.5 1064.7,402.8 1066.3,399.2 1068.1,395.6 1069.9,392.1 1071.7,388.5 1073.7,385.0 1075.7,381.6 1077.8,378.2 1080.0,374.8 1082.3,371.5 1084.6,368.2 1087.1,365.0 1089.8,361.8 1092.5,358.7 1095.4,355.8 1098.3,353.1 1101.5,350.7 1104.8,348.9 1108.2,347.6 1111.8,347.0 1115.5,347.2 1119.3,348.1 1123.1,349.7 1126.8,351.7 1130.3,354.1 1133.5,356.8 1136.4,359.7 1139.1,362.7 1141.6,365.9 1144.0,369.2 1146.2,372.6 1148.3,376.1 1150.3,379.6 1152.2,383.1 1154.2,386.7 1156.1,390.2 1158.0,393.7 1159.9,397.1 1161.8,400.6 1163.6,404.1 1165.5,407.5 1167.4,411.0 1169.2,414.5 1171.1,417.9 1173.0,421.4 1174.9,424.9 1176.8,428.3 1178.7,431.8 1180.7,435.3 1182.6,438.8 1184.6,442.3 1186.7,445.8 1188.7,449.3 1190.8,452.8 1192.9,456.4 1195.1,459.9 1197.4,463.3 1199.8,466.7 1202.2,469.9 1204.9,472.9 1207.6,475.8 1210.5,478.4 1213.6,480.8 1216.9,482.9 1220.4,484.6 1224.1,486.1 1227.9,487.2 1231.9,487.9 1236.0,488.3 1240.1,488.3 1244.1,488.0 1248.1,487.2 1252.0,486.2 1255.7,484.7 1259.2,482.9 1262.5,480.7 1265.6,478.2 1268.5,475.4 1271.3,472.5 1274.0,469.4 1276.6,466.3 1279.1,463.1 1281.6,459.9 1284.1,456.7 1286.6,453.5 1289.0,450.3 1291.4,447.1 1293.8,443.9 1296.2,440.7 1298.5,437.4 1300.8,434.2 1303.1,431.0 1305.4,427.7 1307.7,424.4 1309.9,421.2 1312.1,417.9 1314.4,414.6 1316.6,411.3 1318.8,408.0 1321.0,404.6 1323.2,401.3 1325.5,398.0 1327.7,394.7 1330.0,391.4 1332.4,388.2 1334.8,385.0 1337.3,381.9 1339.8,378.8 1342.5,375.9 1345.3,373.0 1348.2,370.2 1351.2,367.5 1354.3,365.0 1357.6,362.6 1361.1,360.3 1364.7,358.2 1368.4,356.3 1372.3,354.6 1376.2,353.2 1380.2,352.0 1384.1,351.2 1388.0,350.7 1391.8,350.6 1395.5,351.0 1399.2,351.7 1402.7,352.7 1406.2,354.1 1409.5,355.8 1412.8,357.7 1416.0,359.9 1419.2,362.3 1422.3,364.8 1425.3,367.6 1428.3,370.4 1431.3,373.4 1434.2,376.4 1437.1,379.5 1439.9,382.6 1442.8,385.6 1445.6,388.7 1448.4,391.6 1451.2,394.6 1454.0,397.5 1456.7,400.3 1459.5,403.1 1462.2,406.0 1464.9,408.8 1467.5,411.6 1470.1,414.5 1472.7,417.4 1475.2,420.3 1477.7,423.3 1480.2,426.4 1482.6,429.5 1485.0,432.6 1487.4,435.8 1489.8,439.0 1492.2,442.1 1494.7,445.3 1497.2,448.4 1499.8,451.5 1502.4,454.5 1505.2,457.5 1508.0,460.3 1511.0,463.1 1514.1,465.8 1517.3,468.3 1520.6,470.7 1524.1,472.9 1527.6,475.0 1531.2,477.0 1534.8,478.8 1538.6,480.4 1542.4,481.8 1546.2,483.1 1550.0,484.1 1553.9,485.0 1557.8,485.6 1561.7,486.0 1565.6,486.2 1569.5,486.1 1573.4,485.8 1577.3,485.3 1581.1,484.5 1584.9,483.5 1588.6,482.3 1592.3,480.9 1596.0,479.4 1599.6,477.7 1603.2,475.8 1606.7,473.9 1610.2,471.8 1613.6,469.6 1617.0,467.4 1620.3,465.1 1623.5,462.7 1626.7,460.2 1629.9,457.7 1633.0,455.2 1636.1,452.6 1639.1,449.9 1642.1,447.3 1645.1,444.6 1648.1,441.9 1651.1,439.1 1654.0,436.4 1657.0,433.6 1659.9,430.9 1662.8,428.2 1665.8,425.4 1668.7,422.7 1671.7,420.1 1674.7,417.4 1677.7,414.8 1680.8,412.2 1683.8,409.7 1686.9,407.2 1690.1,404.8 1693.3,402.5 1696.5,400.2 1699.8,398.0 1703.2,395.8 1706.6,393.8 1710.1,391.9 1713.6,390.0 1717.3,388.3 1721.0,386.6 1724.7,385.1 1728.5,383.8 1732.4,382.5 1736.2,381.5 1740.1,380.6 1744.1,379.8 1748.0,379.3 1751.9,379.0 1755.8,378.8 1759.8,378.9 1763.6,379.2 1767.5,379.8 1771.3,380.6 1775.1,381.7 1778.8,383.0 1782.5,384.5 1786.1,386.2 1789.7,388.0 1793.3,389.9 1796.9,391.9 1800.5,393.9 1804.1,396.0 1807.6,398.0 1811.2,400.0 1814.8,401.9 1818.4,403.7 1822.0,405.5 1825.6,407.2 1829.2,409.0 1832.7,410.8 1836.2,412.6 1839.7,414.5 1843.0,416.5 1846.4,418.5 1849.6,420.7 1852.8,423.1 1855.8,425.6 1858.8,428.3 1861.7,431.0 1864.6,433.9 1867.4,436.8 1870.2,439.8 1873.1,442.7 1875.9,445.6 1878.7,448.5 1881.7,451.3 1884.6,454.0 1887.7,456.6 1890.8,459.0 1894.0,461.3 1897.4,463.3 1900.8,465.2 1904.4,466.9 1908.0,468.4 1911.8,469.8 1915.7,471.0 1919.5,472.2 1923.4,473.5 1927.1,474.9 1930.8,476.6 1934.3,478.5 1937.7,480.6 1941.0,482.9 1944.2,485.3 1947.3,487.8 1950.4,490.2 1953.6,492.5 1956.8,494.6 1960.2,496.3 1963.8,497.7 1967.5,498.8 1971.3,499.7 1975.2,500.5 1979.1,501.3 1983.0,502.1 1986.9,502.9 1990.9,503.7 1994.8,504.5 1998.8,505.1 2002.7,505.7 2006.7,506.1 2010.6,506.4 2014.6,506.5 2018.5,506.5 2022.5,506.2 2026.5,505.8 2030.5,505.2 2034.4,504.5 2038.4,503.7 2042.4,502.9 2046.3,502.0 2050.3,501.2 2054.3,500.4 2058.2,499.6 2062.2,499.0 2066.1,498.5 2070.1,498.1 2074.0,498.0" stroke="#00ff00"/><path d="M245.0,1563.8 249.0,1564.4 252.9,1564.9 256.9,1565.5 260.8,1566.0 264.8,1566.6 268.7,1567.1 272.7,1567.6 276.6,1568.1 280.6,1568.5 284.5,1568.9 288.5,1569.3 292.5,1569.7 296.4,1570.0 300.4,1570.3 304.3,1570.6 308.3,1570.8 312.3,1570.9 316.3,1571.1 320.3,1571.1 324.3,1571.1 328.3,1571.1 332.3,1571.0 336.3,1570.9 340.4,1570.7 344.4,1570.4 348.5,1570.0 352.5,1569.6 356.5,1569.1 360.5,1568.5 364.5,1567.8 368.5,1567.0 372.4,1566.2 376.3,1565.2 380.1,1564.1 383.9,1562.9 387.6,1561.6 391.3,1560.2 394.9,1558.6 398.5,1557.0 402.0,1555.2 405.4,1553.2 408.7,1551.1 411.9,1548.9 415.1,1546.6 418.1,1544.1 421.1,1541.6 424.1,1538.9 426.9,1536.2 429.7,1533.3 432.5,1530.4 435.1,1527.4 437.7,1524.3 440.3,1521.2 442.7,1517.9 445.1,1514.7 447.5,1511.4 449.8,1508.0 452.0,1504.6 454.2,1501.2 456.3,1497.7 458.4,1494.3 460.5,1490.8 462.4,1487.3 464.4,1483.8 466.3,1480.3 468.2,1476.7 470.0,1473.2 471.8,1469.6 473.5,1466.0 475.2,1462.4 476.9,1458.8 478.6,1455.2 480.2,1451.6 481.9,1448.0 483.5,1444.3 485.0,1440.7 486.6,1437.0 488.2,1433.4 489.7,1429.7 491.2,1426.0 492.8,1422.3 494.3,1418.7 495.8,1415.0 497.3,1411.3 498.8,1407.6 500.3,1403.9 501.7,1400.2 503.2,1396.5 504.7,1392.8 506.2,1389.1 507.6,1385.4 509.1,1381.7 510.5,1378.0 511.9,1374.2 513.4,1370.5 514.8,1366.8 516.2,1363.1 517.7,1359.3 519.1,1355.6 520.5,1351.8 521.9,1348.1 523.3,1344.4 524.7,1340.6 526.1,1336.9 527.5,1333.1 528.9,1329.4 530.3,1325.6 531.7,1321.9 533.1,1318.1 534.5,1314.4 535.9,1310.6 537.3,1306.9 538.6,1303.1 540.0,1299.4 541.4,1295.6 542.8,1291.9 544.2,1288.1 545.5,1284.3 546.9,1280.6 548.3,1276.8 549.7,1273.1 551.1,1269.3 552.5,1265.6 553.8,1261.8 555.2,1258.1 556.6,1254.3 558.0,1250.6 559.4,1246.8 560.8,1243.0 562.2,1239.3 563.6,1235.6 565.0,1231.8 566.4,1228.1 567.8,1224.3 569.2,1220.6 570.6,1216.8 572.0,1213.1 573.4,1209.4 574.8,1205.6 576.3,1201.9 577.7,1198.2 579.1,1194.4 580.6,1190.7 582.0,1187.0 583.5,1183.3 584.9,1179.6 586.4,1175.8 587.9,1172.1 589.3,1168.4 590.8,1164.7 592.3,1161.0 593.8,1157.3 595.3,1153.6 596.8,1149.9 598.3,1146.3 599.9,1142.6 601.4,1138.9 602.9,1135.2 604.5,1131.6 606.1,1127.9 607.6,1124.2 609.2,1120.6 610.8,1116.9 612.4,1113.3 614.0,1109.6 615.7,1106.0 617.3,1102.4 618.9,1098.7 620.6,1095.1 622.3,1091.5 624.0,1087.9 625.7,1084.3 627.4,1080.7 629.1,1077.1 630.8,1073.5 632.6,1069.9 634.3,1066.3 636.1,1062.7 637.9,1059.2 639.7,1055.6 641.5,1052.0 643.3,1048.5 645.1,1044.9 646.9,1041.4 648.8,1037.8 650.6,1034.3 652.4,1030.7 654.3,1027.2 656.1,1023.6 658.0,1020.1 659.9,1016.6 661.7,1013.0 663.6,1009.5 665.5,1006.0 667.3,1002.5 669.2,998.9 671.1,995.4 673.0,991.9 674.9,988.4 676.7,984.8 678.6,981.3 680.5,977.8 682.4,974.3 684.3,970.8 686.2,967.3 688.1,963.8 690.0,960.3 692.0,956.8 693.9,953.3 695.8,949.8 697.8,946.4 699.7,942.9 701.7,939.4 703.7,936.0 705.7,932.5 707.7,929.1 709.7,925.7 711.8,922.2 713.8,918.8 715.9,915.4 718.0,912.0 720.1,908.6 722.2,905.3 724.3,901.9 726.5,898.6 728.7,895.2 730.8,891.9 733.0,888.5 735.2,885.2 737.4,881.9 739.6,878.5 741.9,875.2 744.1,871.9 746.3,868.6 748.5,865.3 750.7,861.9 752.9,858.6 755.1,855.2 757.3,851.9 759.4,848.5 761.6,845.2 763.7,841.8 765.9,838.4 768.0,835.0 770.0,831.6 772.1,828.2 774.2,824.8 776.2,821.4 778.3,818.0 780.4,814.6 782.6,811.2 784.8,807.9 787.1,804.7 789.4,801.5 791.9,798.3 794.4,795.2 797.0,792.2 799.7,789.2 802.4,786.3 805.1,783.4 807.8,780.4 810.5,777.5 813.2,774.5 815.8,771.4 818.3,768.3 820.8,765.2 823.1,761.9 825.3,758.6 827.4,755.1 829.5,751.7 831.5,748.2 833.5,744.7 835.4,741.2 837.4,737.7 839.4,734.2 841.5,730.7 843.6,727.3 845.8,724.0 848.1,720.8 850.5,717.7 853.0,714.6 855.7,711.7 858.5,708.9 861.5,706.2 864.5,703.6 867.6,701.0 870.7,698.4 873.9,695.9 877.1,693.5 880.3,691.0 883.5,688.5 886.7,686.0 889.9,683.5 892.9,680.9 895.9,678.3 898.8,675.6 901.6,672.8 904.3,669.9 906.8,666.9 909.3,663.8 911.6,660.7 913.9,657.4 916.1,654.1 918.3,650.8 920.5,647.5 922.7,644.1 924.9,640.8 927.2,637.4 929.5,634.1 931.9,630.8 934.4,627.6 936.9,624.5 939.5,621.5 942.3,618.6 945.1,615.8 948.0,613.1 951.0,610.6 954.2,608.3 957.4,606.1 960.8,604.0 964.2,602.0 967.6,600.0 971.1,598.1 974.7,596.3 978.2,594.4 981.7,592.5 985.1,590.5 988.6,588.4 991.9,586.3 995.2,584.0 998.4,581.5 1001.4,578.9 1004.4,576.1 1007.2,573.2 1010.0,570.1 1012.7,567.0 1015.4,563.8 1018.1,560.6 1020.8,557.5 1023.5,554.4 1026.2,551.5 1029.1,548.7 1032.0,546.1 1035.1,543.6 1038.3,541.5 1041.6,539.6 1045.1,538.0 1048.8,536.7 1052.6,535.6 1056.4,534.6 1060.4,533.8 1064.3,533.0 1068.3,532.3 1072.3,531.5 1076.2,530.7 1080.1,529.8 1083.8,528.7 1087.5,527.4 1091.0,525.9 1094.4,524.1 1097.7,522.1 1100.8,519.9 1103.9,517.5 1106.8,515.0 1109.7,512.2 1112.6,509.4 1115.4,506.4 1118.2,503.4 1120.9,500.3 1123.8,497.3 1126.6,494.4 1129.6,491.6 1132.7,488.9 1135.8,486.4 1139.1,484.1 1142.6,482.1 1146.2,480.5 1149.9,479.1 1153.6,478.2 1157.5,477.7 1161.4,477.6 1165.4,478.0 1169.4,478.7 1173.4,479.7 1177.5,480.9 1181.5,482.1 1185.5,483.3 1189.4,484.4 1193.3,485.3 1197.1,485.9 1200.9,486.2 1204.6,486.2 1208.2,485.9 1211.8,485.4 1215.3,484.5 1218.9,483.3 1222.3,481.9 1225.8,480.1 1229.2,478.2 1232.7,476.0 1236.1,473.6 1239.5,471.2 1242.9,468.6 1246.3,466.0 1249.7,463.4 1253.1,460.9 1256.5,458.4 1259.9,456.0 1263.3,453.9 1266.8,451.9 1270.3,450.2 1273.8,448.7 1277.3,447.6 1280.8,446.9 1284.4,446.5 1288.1,446.6 1291.7,447.2 1295.5,448.2 1299.2,449.5 1303.0,451.2 1306.8,453.0 1310.6,455.1 1314.4,457.2 1318.2,459.3 1322.1,461.5 1325.9,463.6 1329.8,465.5 1333.6,467.3 1337.4,468.8 1341.2,470.1 1344.9,471.1 1348.6,471.7 1352.2,472.0 1355.8,471.8 1359.4,471.2 1362.8,470.2 1366.3,468.9 1369.7,467.2 1373.0,465.3 1376.4,463.1 1379.7,460.8 1383.0,458.3 1386.3,455.7 1389.6,453.1 1393.0,450.4 1396.3,447.8 1399.7,445.3 1403.1,442.9 1406.6,440.6 1410.1,438.5 1413.7,436.7 1417.3,435.2 1421.0,434.0 1424.8,433.1 1428.6,432.6 1432.4,432.5 1436.3,432.6 1440.1,433.1 1443.9,433.9 1447.6,435.0 1451.3,436.5 1454.8,438.2 1458.3,440.2 1461.6,442.4 1464.9,444.8 1468.1,447.3 1471.3,449.9 1474.6,452.5 1477.8,455.1 1481.1,457.5 1484.5,459.8 1488.1,461.9 1491.7,463.7 1495.4,465.3 1499.2,466.7 1503.1,467.7 1507.0,468.5 1510.9,469.1 1514.9,469.3 1518.8,469.2 1522.6,468.9 1526.4,468.2 1530.1,467.2 1533.7,465.9 1537.3,464.3 1540.7,462.5 1544.1,460.4 1547.4,458.2 1550.7,455.8 1554.0,453.3 1557.3,450.8 1560.6,448.4 1563.9,445.9 1567.3,443.5 1570.8,441.3 1574.4,439.2 1578.1,437.4 1581.9,435.7 1585.7,434.3 1589.6,433.1 1593.6,432.1 1597.6,431.4 1601.6,430.9 1605.6,430.6 1609.6,430.5 1613.5,430.7 1617.5,431.1 1621.3,431.8 1625.1,432.7 1628.8,433.9 1632.3,435.3 1635.8,437.0 1639.1,438.9 1642.3,441.1 1645.5,443.4 1648.5,445.9 1651.5,448.6 1654.4,451.3 1657.4,454.1 1660.4,456.9 1663.4,459.7 1666.5,462.5 1669.6,465.2 1672.9,467.7 1676.3,470.2 1679.8,472.5 1683.4,474.6 1687.1,476.5 1690.8,478.2 1694.6,479.6 1698.5,480.8 1702.3,481.8 1706.1,482.5 1710.0,482.9 1713.8,482.9 1717.5,482.7 1721.2,482.1 1724.8,481.2 1728.4,480.1 1732.0,478.8 1735.6,477.2 1739.1,475.5 1742.6,473.6 1746.1,471.6 1749.6,469.5 1753.1,467.3 1756.6,465.0 1760.1,462.8 1763.6,460.5 1767.2,458.3 1770.7,456.1 1774.3,454.0 1777.9,452.0 1781.6,450.1 1785.2,448.4 1788.9,446.8 1792.6,445.4 1796.4,444.1 1800.2,443.1 1804.0,442.3 1807.8,441.8 1811.6,441.5 1815.5,441.5 1819.4,441.8 1823.3,442.3 1827.1,443.2 1831.0,444.2 1834.8,445.5 1838.5,447.0 1842.2,448.8 1845.8,450.7 1849.2,452.8 1852.6,455.1 1855.8,457.5 1858.9,460.0 1862.0,462.6 1864.9,465.3 1867.9,467.9 1870.9,470.6 1873.8,473.2 1876.8,475.8 1879.9,478.4 1882.9,481.0 1885.9,483.6 1888.9,486.2 1891.9,488.8 1895.0,491.4 1898.1,493.9 1901.3,496.4 1904.5,498.7 1907.8,500.9 1911.2,502.8 1914.8,504.6 1918.4,506.2 1922.2,507.5 1926.0,508.6 1930.0,509.4 1933.9,510.0 1938.0,510.4 1942.0,510.5 1946.0,510.3 1950.1,509.9 1954.0,509.3 1957.9,508.4 1961.7,507.3 1965.4,506.0 1969.1,504.5 1972.7,502.8 1976.3,501.1 1979.9,499.3 1983.5,497.4 1987.0,495.5 1990.6,493.7 1994.2,491.8 1997.8,490.0 2001.4,488.3 2005.0,486.7 2008.7,485.1 2012.4,483.6 2016.1,482.1 2019.8,480.7 2023.6,479.3 2027.3,478.0 2031.1,476.8 2034.9,475.6 2038.8,474.5 2042.6,473.5 2046.5,472.5 2050.4,471.5 2054.3,470.6 2058.2,469.8 2062.1,469.0 2066.1,468.3 2070.0,467.6 2074.0,467.0" stroke="#0000ff"/><path d="M245.0,1209.3 249.0,1210.1 253.0,1210.9 256.9,1211.6 260.9,1212.2 264.8,1212.7 268.8,1213.1 272.7,1213.4 276.7,1213.5 280.6,1213.5 284.6,1213.3 288.5,1213.0 292.5,1212.7 296.5,1212.4 300.4,1212.2 304.4,1212.0 308.4,1212.0 312.4,1212.2 316.4,1212.4 320.4,1212.6 324.4,1212.8 328.4,1213.0 332.3,1213.1 336.3,1213.1 340.3,1213.0 344.2,1212.8 348.2,1212.6 352.1,1212.2 356.1,1211.8 360.0,1211.4 364.0,1210.9 367.9,1210.4 371.9,1209.8 375.9,1209.3 379.9,1208.8 383.9,1208.2 387.9,1207.7 392.0,1207.2 396.0,1206.6 400.0,1205.9 403.9,1205.2 407.9,1204.4 411.7,1203.5 415.6,1202.4 419.3,1201.2 423.0,1199.8 426.6,1198.3 430.2,1196.7 433.7,1194.9 437.2,1193.0 440.5,1191.0 443.9,1188.9 447.1,1186.6 450.3,1184.3 453.5,1181.8 456.6,1179.3 459.6,1176.7 462.6,1174.0 465.5,1171.2 468.4,1168.4 471.2,1165.5 474.0,1162.5 476.7,1159.5 479.4,1156.4 482.0,1153.3 484.6,1150.2 487.1,1147.0 489.6,1143.8 492.0,1140.6 494.4,1137.4 496.8,1134.1 499.1,1130.8 501.3,1127.5 503.6,1124.2 505.8,1120.8 507.9,1117.5 510.1,1114.1 512.2,1110.7 514.2,1107.3 516.3,1103.9 518.3,1100.5 520.3,1097.0 522.3,1093.6 524.2,1090.1 526.2,1086.6 528.1,1083.1 530.0,1079.6 531.9,1076.1 533.8,1072.6 535.7,1069.1 537.6,1065.6 539.4,1062.1 541.3,1058.6 543.2,1055.1 545.0,1051.5 546.9,1048.0 548.8,1044.5 550.6,1041.0 552.5,1037.4 554.4,1033.9 556.3,1030.4 558.2,1026.9 560.1,1023.4 562.1,1019.9 564.0,1016.4 566.0,1013.0 568.0,1009.5 570.0,1006.1 572.1,1002.6 574.1,999.2 576.2,995.7 578.3,992.3 580.4,988.9 582.5,985.5 584.6,982.1 586.7,978.7 588.9,975.3 591.0,972.0 593.2,968.6 595.4,965.2 597.6,961.9 599.7,958.5 601.9,955.2 604.1,951.8 606.3,948.5 608.5,945.2 610.7,941.8 612.9,938.5 615.1,935.2 617.3,931.9 619.5,928.6 621.7,925.3 623.9,921.9 626.1,918.6 628.3,915.3 630.5,912.0 632.7,908.7 634.9,905.3 637.1,902.0 639.3,898.7 641.5,895.3 643.7,892.0 645.9,888.7 648.1,885.4 650.3,882.0 652.5,878.7 654.8,875.4 657.0,872.1 659.2,868.8 661.5,865.5 663.7,862.2 666.0,858.9 668.3,855.6 670.5,852.3 672.8,849.0 675.1,845.7 677.4,842.4 679.7,839.2 682.0,835.9 684.3,832.7 686.7,829.4 689.0,826.2 691.4,823.0 693.7,819.7 696.1,816.5 698.5,813.3 700.9,810.2 703.3,807.0 705.8,803.8 708.2,800.7 710.6,797.5 713.1,794.4 715.6,791.2 718.0,788.1 720.5,785.0 723.0,781.8 725.4,778.7 727.9,775.5 730.4,772.4 732.8,769.3 735.3,766.1 737.7,762.9 740.1,759.8 742.6,756.6 745.0,753.4 747.4,750.2 749.7,747.0 752.1,743.8 754.5,740.6 756.9,737.4 759.3,734.2 761.9,731.1 764.4,728.1 767.1,725.2 769.8,722.3 772.6,719.5 775.4,716.7 778.2,713.9 780.9,711.0 783.6,708.1 786.1,705.0 788.6,701.9 791.0,698.7 793.3,695.4 795.6,692.2 797.9,688.8 800.2,685.5 802.5,682.3 804.8,679.0 807.3,675.9 809.8,672.8 812.4,669.8 815.2,666.9 818.0,664.2 821.0,661.6 824.1,659.1 827.3,656.6 830.5,654.2 833.7,651.8 836.8,649.3 840.0,646.8 843.0,644.2 846.0,641.6 848.8,638.8 851.5,635.8 854.2,632.8 856.7,629.7 859.1,626.5 861.5,623.2 863.9,619.9 866.3,616.7 868.7,613.4 871.1,610.2 873.6,607.0 876.1,604.0 878.7,601.0 881.5,598.1 884.3,595.4 887.3,592.9 890.5,590.6 893.9,588.4 897.4,586.4 901.0,584.6 904.6,582.8 908.2,580.9 911.7,578.9 915.0,576.8 918.2,574.6 921.2,572.2 924.2,569.6 927.0,566.9 929.7,564.0 932.3,561.0 934.8,557.9 937.3,554.6 939.7,551.3 942.1,548.0 944.5,544.7 947.0,541.5 949.5,538.3 952.1,535.2 954.8,532.3 957.6,529.5 960.5,527.0 963.6,524.7 966.9,522.7 970.4,521.0 974.1,519.6 977.9,518.4 981.8,517.3 985.8,516.3 989.8,515.4 993.7,514.4 997.6,513.2 1001.4,511.9 1005.1,510.4 1008.6,508.5 1011.8,506.3 1014.8,503.8 1017.6,500.9 1020.3,497.8 1022.9,494.6 1025.5,491.3 1028.0,488.0 1030.5,484.8 1033.2,481.7 1035.9,478.8 1038.8,476.1 1041.9,473.8 1045.2,471.9 1048.6,470.4 1052.3,469.3 1056.0,468.6 1060.0,468.3 1064.0,468.4 1068.1,468.9 1072.2,469.6 1076.3,470.3 1080.3,470.8 1084.2,471.0 1088.0,470.6 1091.6,469.8 1095.1,468.6 1098.4,466.9 1101.7,464.9 1104.8,462.5 1107.9,459.9 1110.9,457.1 1113.9,454.1 1116.9,451.0 1119.8,447.8 1122.8,444.6 1125.8,441.5 1128.8,438.5 1131.9,435.8 1135.1,433.4 1138.3,431.4 1141.7,429.9 1145.2,428.9 1148.8,428.5 1152.5,428.7 1156.3,429.4 1160.2,430.6 1164.1,432.1 1168.0,433.8 1171.9,435.5 1175.8,437.2 1179.6,438.6 1183.3,439.7 1187.0,440.2 1190.5,440.1 1194.0,439.4 1197.4,438.1 1200.7,436.4 1204.0,434.3 1207.3,431.9 1210.5,429.3 1213.8,426.5 1217.1,423.6 1220.4,420.7 1223.8,417.8 1227.2,415.0 1230.6,412.4 1234.0,410.0 1237.5,407.9 1241.0,406.2 1244.5,404.9 1248.0,404.1 1251.5,403.8 1255.1,404.2 1258.6,405.1 1262.1,406.4 1265.7,408.1 1269.2,410.2 1272.6,412.5 1276.1,415.0 1279.5,417.6 1282.8,420.3 1286.2,422.9 1289.5,425.5 1292.8,427.8 1296.1,429.9 1299.5,431.6 1303.0,432.8 1306.5,433.4 1310.2,433.3 1313.9,432.7 1317.6,431.5 1321.2,429.7 1324.6,427.6 1327.8,425.0 1330.8,422.2 1333.7,419.1 1336.6,415.9 1339.4,412.7 1342.3,409.5 1345.3,406.4 1348.4,403.4 1351.5,400.7 1354.7,398.3 1357.9,396.3 1361.2,394.7 1364.6,393.6 1368.0,393.1 1371.5,393.2 1375.1,393.8 1378.7,394.9 1382.3,396.5 1385.9,398.4 1389.5,400.7 1393.0,403.1 1396.5,405.8 1399.9,408.5 1403.2,411.2 1406.5,414.0 1409.7,416.6 1412.9,419.0 1416.2,421.3 1419.6,423.2 1423.1,424.8 1426.7,426.0 1430.5,426.7 1434.2,427.0 1438.0,426.9 1441.7,426.2 1445.2,425.0 1448.7,423.3 1451.9,421.2 1455.1,418.7 1458.2,416.0 1461.2,413.1 1464.2,410.1 1467.1,407.1 1470.0,404.1 1472.9,401.1 1475.9,398.3 1479.0,395.7 1482.1,393.2 1485.4,391.0 1488.9,388.9 1492.5,387.2 1496.2,385.8 1500.0,384.6 1503.9,383.9 1507.8,383.5 1511.7,383.5 1515.5,383.9 1519.1,384.7 1522.7,386.0 1525.9,387.8 1529.1,390.1 1532.0,392.6 1535.0,395.4 1537.9,398.4 1540.9,401.4 1544.0,404.4 1547.3,407.3 1550.6,410.0 1554.1,412.6 1557.6,415.0 1561.2,417.1 1564.9,418.9 1568.5,420.4 1572.2,421.6 1575.9,422.3 1579.5,422.6 1583.1,422.4 1586.6,421.8 1590.1,420.7 1593.6,419.3 1597.0,417.6 1600.4,415.6 1603.8,413.3 1607.2,410.9 1610.5,408.3 1613.8,405.6 1617.2,402.8 1620.5,399.9 1623.8,397.1 1627.1,394.4 1630.4,391.7 1633.7,389.2 1637.0,386.8 1640.4,384.7 1643.8,382.8 1647.3,381.2 1650.7,379.9 1654.3,379.0 1657.9,378.6 1661.5,378.5 1665.2,378.9 1669.0,379.7 1672.7,380.8 1676.4,382.3 1680.1,384.1 1683.7,386.1 1687.2,388.4 1690.7,390.9 1694.0,393.5 1697.2,396.3 1700.3,399.2 1703.3,402.1 1706.2,405.1 1709.0,407.9 1711.9,410.7 1714.9,413.2 1718.0,415.6 1721.2,417.6 1724.6,419.3 1728.2,420.7 1732.1,421.6 1736.1,422.0 1740.2,422.1 1744.4,421.9 1748.4,421.4 1752.3,420.6 1756.1,419.6 1759.8,418.3 1763.4,416.9 1766.9,415.3 1770.4,413.5 1773.8,411.6 1777.2,409.6 1780.5,407.5 1783.9,405.3 1787.3,403.1 1790.7,400.9 1794.2,398.7 1797.7,396.5 1801.3,394.3 1805.0,392.2 1808.8,390.3 1812.6,388.4 1816.4,386.7 1820.3,385.3 1824.1,384.1 1828.0,383.1 1831.9,382.4 1835.7,382.1 1839.5,382.1 1843.3,382.6 1847.0,383.4 1850.7,384.6 1854.2,386.1 1857.8,387.9 1861.2,389.9 1864.6,392.1 1868.0,394.4 1871.2,396.8 1874.4,399.3 1877.5,401.8 1880.5,404.3 1883.5,406.8 1886.5,409.2 1889.5,411.7 1892.5,414.2 1895.5,416.6 1898.6,419.0 1901.8,421.4 1905.1,423.7 1908.5,426.0 1912.1,428.2 1915.8,430.4 1919.5,432.4 1923.4,434.2 1927.3,435.8 1931.1,437.1 1935.0,438.2 1938.9,438.9 1942.7,439.3 1946.5,439.2 1950.2,438.7 1953.8,437.7 1957.3,436.4 1960.7,434.8 1964.2,433.0 1967.6,431.0 1971.0,429.0 1974.5,426.8 1978.0,424.7 1981.5,422.7 1985.1,420.8 1988.8,419.0 1992.5,417.4 1996.3,415.8 2000.0,414.4 2003.9,413.2 2007.7,412.1 2011.6,411.1 2015.4,410.4 2019.3,409.8 2023.2,409.3 2027.1,409.1 2031.0,409.0 2034.9,409.1 2038.8,409.4 2042.8,409.8 2046.7,410.4 2050.6,411.2 2054.5,412.1 2058.4,413.2 2062.3,414.3 2066.2,415.3 2070.1,416.3 2074.0,417.0" stroke="#00ffff"/><path d="M245.0,1533.0 249.0,1533.5 252.9,1534.0 256.9,1534.4 260.8,1534.9 264.8,1535.3 268.8,1535.7 272.7,1536.1 276.7,1536.4 280.7,1536.8 284.7,1537.1 288.6,1537.4 292.6,1537.7 296.6,1538.0 300.6,1538.2 304.6,1538.4 308.6,1538.7 312.6,1538.9 316.6,1539.0 320.6,1539.2 324.6,1539.3 328.6,1539.5 332.6,1539.6 336.6,1539.7 340.6,1539.8 344.6,1539.8 348.5,1539.8 352.5,1539.8 356.5,1539.8 360.5,1539.7 364.5,1539.6 368.5,1539.5 372.5,1539.3 376.5,1539.1 380.4,1538.8 384.4,1538.4 388.4,1538.0 392.3,1537.5 396.3,1537.0 400.2,1536.4 404.2,1535.8 408.1,1535.0 412.0,1534.2 416.0,1533.3 419.9,1532.3 423.8,1531.3 427.6,1530.1 431.4,1528.8 435.2,1527.4 438.9,1526.0 442.5,1524.4 446.1,1522.6 449.6,1520.8 453.0,1518.8 456.2,1516.7 459.4,1514.4 462.5,1512.0 465.4,1509.4 468.2,1506.7 470.9,1503.9 473.6,1501.0 476.1,1497.9 478.5,1494.8 480.9,1491.6 483.2,1488.3 485.5,1485.0 487.7,1481.6 489.9,1478.2 492.1,1474.8 494.2,1471.4 496.4,1467.9 498.5,1464.5 500.6,1461.1 502.7,1457.6 504.7,1454.2 506.8,1450.7 508.8,1447.3 510.8,1443.8 512.8,1440.3 514.8,1436.9 516.8,1433.4 518.8,1429.9 520.7,1426.4 522.7,1422.9 524.6,1419.4 526.5,1415.9 528.5,1412.4 530.4,1408.9 532.2,1405.4 534.1,1401.9 536.0,1398.3 537.9,1394.8 539.7,1391.3 541.5,1387.8 543.4,1384.2 545.2,1380.7 547.0,1377.1 548.8,1373.6 550.7,1370.0 552.5,1366.5 554.2,1362.9 556.0,1359.4 557.8,1355.8 559.6,1352.2 561.4,1348.7 563.2,1345.1 564.9,1341.5 566.7,1338.0 568.5,1334.4 570.2,1330.8 572.0,1327.2 573.7,1323.6 575.5,1320.1 577.2,1316.5 579.0,1312.9 580.8,1309.3 582.5,1305.7 584.3,1302.1 586.0,1298.5 587.8,1295.0 589.5,1291.4 591.3,1287.8 593.0,1284.2 594.8,1280.6 596.5,1277.0 598.3,1273.4 600.0,1269.8 601.8,1266.2 603.5,1262.6 605.3,1259.0 607.0,1255.5 608.8,1251.9 610.5,1248.3 612.3,1244.7 614.1,1241.1 615.8,1237.5 617.6,1233.9 619.4,1230.3 621.1,1226.7 622.9,1223.2 624.7,1219.6 626.4,1216.0 628.2,1212.4 630.0,1208.8 631.8,1205.3 633.6,1201.7 635.4,1198.1 637.2,1194.5 639.0,1191.0 640.8,1187.4 642.6,1183.8 644.4,1180.3 646.2,1176.7 648.0,1173.2 649.8,1169.6 651.7,1166.0 653.5,1162.5 655.3,1158.9 657.2,1155.4 659.0,1151.9 660.9,1148.3 662.8,1144.8 664.6,1141.3 666.5,1137.7 668.4,1134.2 670.3,1130.7 672.1,1127.2 674.0,1123.6 675.9,1120.1 677.9,1116.6 679.8,1113.1 681.7,1109.6 683.6,1106.1 685.6,1102.7 687.5,1099.2 689.5,1095.7 691.4,1092.2 693.4,1088.7 695.4,1085.3 697.3,1081.8 699.3,1078.3 701.3,1074.9 703.3,1071.4 705.3,1068.0 707.3,1064.5 709.3,1061.1 711.3,1057.6 713.3,1054.2 715.4,1050.7 717.4,1047.3 719.4,1043.8 721.4,1040.4 723.4,1036.9 725.4,1033.5 727.4,1030.1 729.5,1026.6 731.5,1023.2 733.5,1019.7 735.5,1016.2 737.5,1012.8 739.5,1009.3 741.5,1005.9 743.5,1002.4 745.5,998.9 747.4,995.4 749.4,992.0 751.4,988.5 753.4,985.0 755.4,981.5 757.4,978.1 759.4,974.6 761.4,971.2 763.5,967.7 765.5,964.3 767.6,960.9 769.7,957.5 771.8,954.2 774.0,950.8 776.2,947.5 778.4,944.2 780.7,940.9 783.0,937.7 785.3,934.4 787.6,931.2 789.9,927.9 792.2,924.7 794.5,921.4 796.7,918.2 799.0,914.9 801.2,911.5 803.4,908.2 805.5,904.8 807.6,901.4 809.7,898.0 811.8,894.6 813.9,891.2 815.9,887.7 818.0,884.3 820.0,880.8 822.1,877.4 824.1,874.0 826.2,870.5 828.2,867.1 830.3,863.7 832.4,860.3 834.6,856.9 836.7,853.5 838.9,850.2 841.1,846.9 843.4,843.6 845.7,840.4 848.0,837.1 850.4,834.0 852.8,830.8 855.3,827.7 857.9,824.7 860.5,821.7 863.2,818.8 865.9,815.8 868.6,812.9 871.4,810.1 874.2,807.2 877.0,804.3 879.8,801.5 882.5,798.6 885.3,795.7 888.0,792.8 890.7,789.8 893.3,786.8 895.9,783.8 898.4,780.7 900.8,777.5 903.1,774.3 905.4,771.0 907.5,767.6 909.6,764.2 911.7,760.7 913.8,757.3 916.0,753.9 918.2,750.5 920.4,747.2 922.8,743.9 925.2,740.8 927.8,737.7 930.5,734.8 933.2,731.9 936.1,729.1 939.0,726.5 942.1,723.9 945.2,721.4 948.4,718.9 951.5,716.5 954.7,714.1 958.0,711.7 961.1,709.3 964.3,706.9 967.4,704.4 970.5,701.8 973.4,699.2 976.3,696.5 979.1,693.7 981.9,690.8 984.5,687.8 987.2,684.9 989.7,681.8 992.3,678.8 994.8,675.7 997.4,672.6 999.9,669.5 1002.4,666.4 1005.0,663.3 1007.6,660.2 1010.2,657.2 1012.8,654.2 1015.5,651.2 1018.3,648.3 1021.0,645.4 1023.9,642.5 1026.7,639.7 1029.6,637.0 1032.6,634.3 1035.5,631.6 1038.6,629.0 1041.7,626.5 1044.8,624.0 1048.0,621.6 1051.2,619.3 1054.5,617.0 1057.8,614.8 1061.2,612.6 1064.6,610.5 1068.1,608.5 1071.5,606.5 1075.0,604.6 1078.6,602.7 1082.1,600.9 1085.6,599.1 1089.2,597.3 1092.7,595.5 1096.2,593.8 1099.8,592.0 1103.2,590.3 1106.7,588.5 1110.1,586.7 1113.4,584.9 1116.7,582.9 1120.0,580.7 1123.2,578.4 1126.3,575.8 1129.3,573.0 1132.4,570.2 1135.4,567.2 1138.4,564.4 1141.5,561.7 1144.6,559.3 1147.9,557.1 1151.3,555.4 1154.8,554.3 1158.5,553.7 1162.5,553.8 1166.6,554.4 1170.8,555.3 1175.0,556.3 1179.1,557.0 1183.2,557.2 1187.0,556.7 1190.7,555.8 1194.3,554.3 1197.6,552.4 1200.8,550.2 1203.9,547.7 1206.9,545.0 1209.7,542.2 1212.6,539.3 1215.4,536.4 1218.3,533.5 1221.3,530.8 1224.4,528.2 1227.6,525.9 1231.1,523.9 1234.7,522.2 1238.5,521.0 1242.4,520.4 1246.3,520.3 1250.4,520.8 1254.4,521.8 1258.5,523.2 1262.6,524.7 1266.6,526.2 1270.6,527.7 1274.5,528.8 1278.4,529.5 1282.1,529.7 1285.7,529.1 1289.2,528.0 1292.7,526.4 1296.1,524.4 1299.4,522.2 1302.7,519.7 1306.0,517.1 1309.4,514.6 1312.7,512.1 1316.2,509.9 1319.7,507.9 1323.3,506.4 1327.0,505.2 1330.7,504.5 1334.5,504.2 1338.2,504.4 1341.9,505.0 1345.6,506.1 1349.2,507.6 1352.6,509.6 1356.0,512.1 1359.3,514.9 1362.5,517.8 1365.9,520.7 1369.3,523.3 1372.9,525.4 1376.6,527.0 1380.3,527.8 1383.8,527.8 1387.1,526.9 1390.2,525.1 1393.3,522.8 1396.3,520.1 1399.3,517.1 1402.4,513.9 1405.6,510.9 1408.9,507.9 1412.3,505.1 1415.8,502.6 1419.4,500.4 1423.0,498.5 1426.5,497.1 1430.1,496.1 1433.7,495.7 1437.2,495.8 1440.7,496.6 1444.2,497.8 1447.6,499.5 1451.0,501.6 1454.4,503.9 1457.8,506.5 1461.2,509.2 1464.6,512.0 1468.1,514.8 1471.6,517.5 1475.1,520.1 1478.7,522.4 1482.2,524.4 1485.8,525.9 1489.2,526.9 1492.6,527.2 1495.8,526.8 1499.0,525.7 1502.1,524.1 1505.1,522.0 1508.1,519.5 1511.1,516.6 1514.1,513.5 1517.2,510.3 1520.3,507.0 1523.4,503.7 1526.7,500.6 1530.0,497.6 1533.5,494.9 1537.1,492.6 1540.7,490.7 1544.3,489.1 1548.0,488.1 1551.5,487.7 1555.0,487.9 1558.5,488.7 1561.8,490.1 1565.0,492.0 1568.2,494.2 1571.4,496.8 1574.6,499.6 1577.8,502.4 1581.0,505.4 1584.2,508.3 1587.4,511.2 1590.7,514.0 1594.0,516.6 1597.3,519.0 1600.7,521.1 1604.1,522.9 1607.5,524.2 1611.0,525.1 1614.5,525.4 1618.1,525.2 1621.7,524.4 1625.3,523.2 1629.0,521.6 1632.7,519.6 1636.3,517.4 1640.0,514.9 1643.6,512.4 1647.2,509.8 1650.7,507.2 1654.3,504.7 1657.8,502.3 1661.3,500.1 1664.7,498.3 1668.2,496.7 1671.6,495.6 1675.0,495.0 1678.3,494.9 1681.6,495.4 1684.9,496.5 1688.2,498.0 1691.5,500.0 1694.7,502.3 1697.9,505.0 1701.1,507.9 1704.2,511.0 1707.3,514.2 1710.4,517.4 1713.5,520.7 1716.5,523.9 1719.5,527.0 1722.5,529.9 1725.5,532.6 1728.6,535.1 1731.7,537.4 1734.9,539.3 1738.2,540.9 1741.5,542.1 1745.0,542.9 1748.7,543.3 1752.5,543.2 1756.5,542.6 1760.4,541.6 1764.3,540.2 1768.2,538.4 1771.8,536.4 1775.2,534.2 1778.5,531.8 1781.7,529.2 1784.9,526.7 1788.0,524.1 1791.3,521.7 1794.6,519.4 1798.1,517.3 1801.7,515.5 1805.4,514.0 1809.3,512.7 1813.2,511.8 1817.1,511.1 1820.9,510.9 1824.8,510.9 1828.6,511.4 1832.2,512.2 1835.7,513.5 1839.1,515.2 1842.3,517.3 1845.2,519.9 1848.0,522.7 1850.7,525.9 1853.3,529.2 1855.9,532.6 1858.4,536.1 1860.9,539.6 1863.4,543.0 1866.0,546.2 1868.6,549.2 1871.4,552.0 1874.4,554.5 1877.4,556.9 1880.6,559.2 1883.8,561.6 1887.3,564.0 1890.8,566.3 1894.4,568.2 1898.0,569.4 1901.8,569.9 1905.5,569.6 1909.3,568.6 1913.0,567.1 1916.7,565.3 1920.2,563.3 1923.7,561.3 1927.0,559.1 1930.4,556.9 1933.7,554.6 1937.0,552.4 1940.3,550.1 1943.6,548.0 1947.0,545.8 1950.4,543.8 1953.8,541.8 1957.3,539.8 1960.9,537.7 1964.5,535.5 1968.1,533.4 1971.7,531.5 1975.3,530.2 1979.0,529.7 1982.7,530.0 1986.4,531.1 1990.0,532.8 1993.4,534.9 1996.8,537.3 2000.0,539.7 2003.0,542.4 2005.9,545.1 2008.8,547.9 2011.5,550.9 2014.2,553.9 2016.9,556.9 2019.5,560.0 2022.1,563.0 2024.7,566.1 2027.3,569.2 2029.9,572.2 2032.7,575.1 2035.4,578.0 2038.3,580.8 2041.3,583.4 2044.3,585.9 2047.5,588.2 2050.9,590.2 2054.3,592.0 2057.9,593.5 2061.7,594.7 2065.6,595.5 2069.7,596.0 2074.0,596.0" stroke="#ff00ff"/></g>
<rect x="245" y="157" width="1829" height="1463" fill="none" stroke="#000" stroke-width="8"/>
<line x1="249" y1="1473.7" x2="274" y2="1473.7" stroke="#000" stroke-width="8"/>
<line x1="249" y1="1327.4" x2="274" y2="1327.4" stroke="#000" stroke-width="8"/>
<line x1="249" y1="1181.1" x2="274" y2="1181.1" stroke="#000" stroke-width="8"/>
<line x1="249" y1="1034.8" x2="274" y2="1034.8" stroke="#000" stroke-width="8"/>
<line x1="249" y1="888.5" x2="274" y2="888.5" stroke="#000" stroke-width="8"/>
<line x1="249" y1="742.2" x2="274" y2="742.2" stroke="#000" stroke-width="8"/>
<line x1="249" y1="595.9" x2="274" y2="595.9" stroke="#000" stroke-width="8"/>
<line x1="249" y1="449.6" x2="274" y2="449.6" stroke="#000" stroke-width="8"/>
<line x1="249" y1="303.3" x2="274" y2="303.3" stroke="#000" stroke-width="8"/>
<line x1="359.3" y1="1616" x2="359.3" y2="1591" stroke="#000" stroke-width="8"/>
<line x1="549.8" y1="1616" x2="549.8" y2="1591" stroke="#000" stroke-width="8"/>
<line x1="740.4" y1="1616" x2="740.4" y2="1591" stroke="#000" stroke-width="8"/>
<line x1="930.9" y1="1616" x2="930.9" y2="1591" stroke="#000" stroke-width="8"/>
<line x1="1121.4" y1="1616" x2="1121.4" y2="1591" stroke="#000" stroke-width="8"/>
<line x1="1311.9" y1="1616" x2="1311.9" y2="1591" stroke="#000" stroke-width="8"/>
<line x1="1502.4" y1="1616" x2="1502.4" y2="1591" stroke="#000" stroke-width="8"/>
<line x1="1693.0" y1="1616" x2="1693.0" y2="1591" stroke="#000" stroke-width="8"/>
<line x1="1883.5" y1="1616" x2="1883.5" y2="1591" stroke="#000" stroke-width="8"/>
<text x="215" y="1640.0" text-anchor="end" class="tk">0</text>
<text x="215" y="1493.7" text-anchor="end" class="tk">10</text>
<text x="215" y="1347.4" text-anchor="end" class="tk">20</text>
<text x="215" y="1201.1" text-anchor="end" class="tk">30</text>
<text x="215" y="1054.8" text-anchor="end" class="tk">40</text>
<text x="215" y="908.5" text-anchor="end" class="tk">50</text>
<text x="215" y="762.2" text-anchor="end" class="tk">60</text>
<text x="215" y="615.9" text-anchor="end" class="tk">70</text>
<text x="215" y="469.6" text-anchor="end" class="tk">80</text>
<text x="215" y="323.3" text-anchor="end" class="tk">90</text>
<text x="215" y="177.0" text-anchor="end" class="tk">100</text>
<text x="359.3" y="1700" text-anchor="middle" class="tk">350</text>
<text x="549.8" y="1700" text-anchor="middle" class="tk">400</text>
<text x="740.4" y="1700" text-anchor="middle" class="tk">450</text>
<text x="930.9" y="1700" text-anchor="middle" class="tk">500</text>
<text x="1121.4" y="1700" text-anchor="middle" class="tk">550</text>
<text x="1311.9" y="1700" text-anchor="middle" class="tk">600</text>
<text x="1502.4" y="1700" text-anchor="middle" class="tk">650</text>
<text x="1693.0" y="1700" text-anchor="middle" class="tk">700</text>
<text x="1883.5" y="1700" text-anchor="middle" class="tk">750</text>
<text x="2074.0" y="1700" text-anchor="middle" class="tk">800</text>
<text x="1160" y="94.5" text-anchor="middle" class="ttl">Post Annealing</text>
<text x="1159.5" y="1820" text-anchor="middle" class="ax">Wavelength (nm)</text>
<text transform="translate(87.5,887.5) rotate(-90)" text-anchor="middle" class="ax" style="font-size:77px">Transmittance (%)</text>
<rect x="1241" y="775" width="677" height="665" fill="#fff" stroke="#000" stroke-width="8"/>
<text x="1251" y="854" class="lg">ITO Thickness Layer</text>
<line x1="1251" y1="920.0" x2="1422" y2="920.0" stroke="#000000" stroke-width="8" stroke-linecap="round"/>
<text x="1441" y="946.0" class="lg">50 nm</text>
<line x1="1251" y1="1013.7" x2="1422" y2="1013.7" stroke="#ff0000" stroke-width="8" stroke-linecap="round"/>
<text x="1441" y="1039.7" class="lg">100 nm</text>
<line x1="1251" y1="1107.4" x2="1422" y2="1107.4" stroke="#00ff00" stroke-width="8" stroke-linecap="round"/>
<text x="1441" y="1133.4" class="lg">150 nm</text>
<line x1="1251" y1="1201.1" x2="1422" y2="1201.1" stroke="#0000ff" stroke-width="8" stroke-linecap="round"/>
<text x="1441" y="1227.1" class="lg">200 nm</text>
<line x1="1251" y1="1294.8" x2="1422" y2="1294.8" stroke="#00ffff" stroke-width="8" stroke-linecap="round"/>
<text x="1441" y="1320.8" class="lg">250 nm</text>
<line x1="1251" y1="1388.5" x2="1422" y2="1388.5" stroke="#ff00ff" stroke-width="8" stroke-linecap="round"/>
<text x="1441" y="1414.5" class="lg">300 nm</text>
</svg></body></html>
